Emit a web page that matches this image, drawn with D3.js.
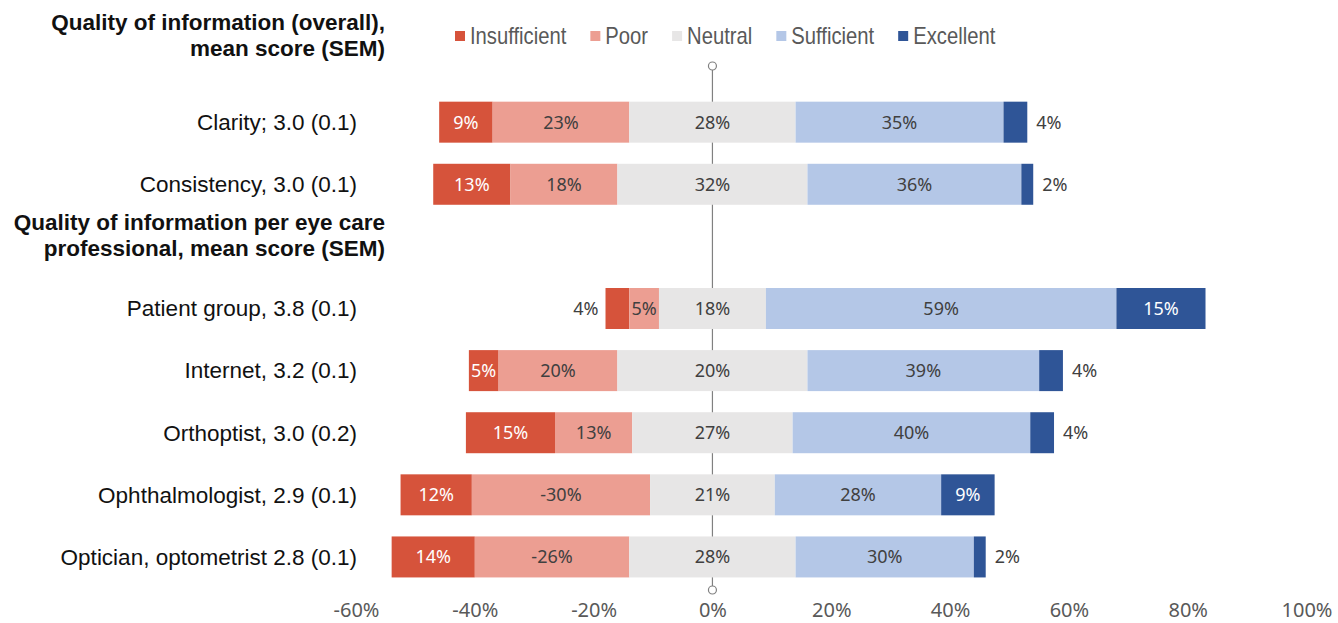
<!DOCTYPE html>
<html>
<head>
<meta charset="utf-8">
<script src="https://cdn.jsdelivr.net/npm/d3@7"></script>
<style>
  body { margin: 0; background: #fff; }
  svg { display: block; }
</style>
</head>
<body>
<svg id="chart" width="1338" height="623"></svg>
<script>
// rows, top to bottom ("h1"/"h2" are the group headings)
const rows = ["h1", "Clarity; 3.0 (0.1)", "Consistency, 3.0 (0.1)", "h2",
  "Patient group, 3.8 (0.1)", "Internet, 3.2 (0.1)", "Orthoptist, 3.0 (0.2)",
  "Ophthalmologist, 2.9 (0.1)", "Optician, optometrist 2.8 (0.1)"];
const headings = {
  h1: ["Quality of information (overall),", "mean score (SEM)"],
  h2: ["Quality of information per eye care", "professional, mean score (SEM)"]
};
const categories = rows.filter(r => !headings[r]);

const seriesNames = ["Insufficient", "Poor", "Neutral", "Sufficient", "Excellent"];
const insufficient = [9, 13, 4, 5, 15, 12, 14];
const poor =         [23, 18, 5, 20, 13, 30, 26];
const neutral =      [28, 32, 18, 32, 27, 21, 28];
const sufficient =   [35, 36, 59, 39, 40, 28, 30];
const excellent =    [4, 2, 15, 4, 4, 9, 2];
// labels as printed where they differ from the value
const poorText =    [null, null, null, null, null, "-30%", "-26%"];
const neutralText = [null, null, null, "20%", null, null, null];

const tickValues = [-60, -40, -20, 0, 20, 40, 60, 80, 100];

const colors = ["#d6533b", "#ec9e92", "#e7e6e6", "#b4c7e7", "#2f5597"];
const labelColors = ["#ffffff", "#404040", "#404040", "#404040", "#ffffff"];

const svg = d3.select("#chart");
const x = d3.scaleLinear().domain([-60, 100]).range([356, 1306.5]);
const y = d3.scaleBand().domain(rows).range([29, 588]).paddingInner(0.34).paddingOuter(0.17);

const valueFont = "'Noto Sans', 'Open Sans', sans-serif";
const textFont = "'Liberation Sans', Arial, sans-serif";

// centre line with end circles
svg.append("line")
  .attr("x1", x(0)).attr("x2", x(0))
  .attr("y1", 70).attr("y2", 586)
  .attr("stroke", "#808080").attr("stroke-width", 1.2);
[66, 590].forEach(cy => {
  svg.append("circle").attr("cx", x(0)).attr("cy", cy).attr("r", 4)
    .attr("fill", "#fff").attr("stroke", "#808080").attr("stroke-width", 1.2);
});

// build segments, neutral centred on 0
const seriesVals = [insufficient, poor, neutral, sufficient, excellent];
const seriesText = [null, poorText, neutralText, null, null];
const segs = [];
categories.forEach((cat, i) => {
  const v = seriesVals.map(s => s[i]);
  let start = -(v[2] / 2 + v[1] + v[0]);
  v.forEach((val, k) => {
    const t = seriesText[k] && seriesText[k][i];
    segs.push({cat, k, x0: start, x1: start + val, val, text: t || (val + "%")});
    start += val;
  });
});

const g = svg.append("g");
g.selectAll("rect").data(segs).join("rect")
  .attr("x", d => x(d.x0))
  .attr("y", d => y(d.cat))
  .attr("width", d => x(d.x1) - x(d.x0))
  .attr("height", y.bandwidth())
  .attr("fill", d => colors[d.k]);

g.selectAll("text").data(segs).join("text")
  .attr("x", d => {
    if (d.val >= 5) return x((d.x0 + d.x1) / 2);
    return d.k === 0 ? x(d.x0) - 7 : x(d.x1) + 9;
  })
  .attr("y", d => y(d.cat) + y.bandwidth() / 2)
  .attr("dy", "0.36em")
  .attr("text-anchor", d => d.val >= 5 ? "middle" : (d.k === 0 ? "end" : "start"))
  .attr("fill", d => d.val >= 5 ? labelColors[d.k] : "#404040")
  .style("font-family", valueFont)
  .style("font-size", "18px")
  .text(d => d.text);

// category labels
svg.append("g").selectAll("text").data(categories).join("text")
  .attr("x", 357)
  .attr("y", d => y(d) + y.bandwidth() / 2)
  .attr("dy", "0.35em")
  .attr("text-anchor", "end")
  .attr("fill", "#111")
  .style("font-family", textFont)
  .style("font-size", "22.5px")
  .text(d => d);

// headings
const headShift = {h1: -25, h2: -11};
Object.keys(headings).forEach(h => {
  const cy = y(h) + y.bandwidth() / 2 + headShift[h];
  const t = svg.append("text")
    .attr("text-anchor", "end")
    .attr("fill", "#111")
    .style("font-family", textFont)
    .style("font-size", "22.5px")
    .style("font-weight", "bold");
  headings[h].forEach((line, i) => {
    t.append("tspan").attr("x", 385).attr("y", cy + (i - 0.5) * 26).attr("dy", "0.35em").text(line);
  });
});

// x axis labels
const xAxis = d3.axisBottom(x).tickValues(tickValues).tickSize(0).tickPadding(0)
  .tickFormat(d => d + "%");
const ax = svg.append("g").attr("transform", "translate(0,603)").call(xAxis);
ax.select(".domain").remove();
ax.selectAll("text")
  .attr("fill", "#595959")
  .style("font-family", valueFont)
  .style("font-size", "20px");

// legend (condensed text)
const leg = svg.append("g");
let lx = 455;
seriesNames.forEach((name, k) => {
  leg.append("rect").attr("x", lx).attr("y", 31).attr("width", 10).attr("height", 10)
    .attr("fill", colors[k]);
  const tx = lx + 15;
  const t = leg.append("text")
    .attr("transform", `translate(${tx},36) scale(0.88,1)`)
    .attr("dy", "0.36em")
    .attr("fill", "#595959")
    .style("font-family", textFont)
    .style("font-size", "23px")
    .text(name);
  lx = tx + t.node().getComputedTextLength() * 0.88 + 24;
});
</script>
</body>
</html>
